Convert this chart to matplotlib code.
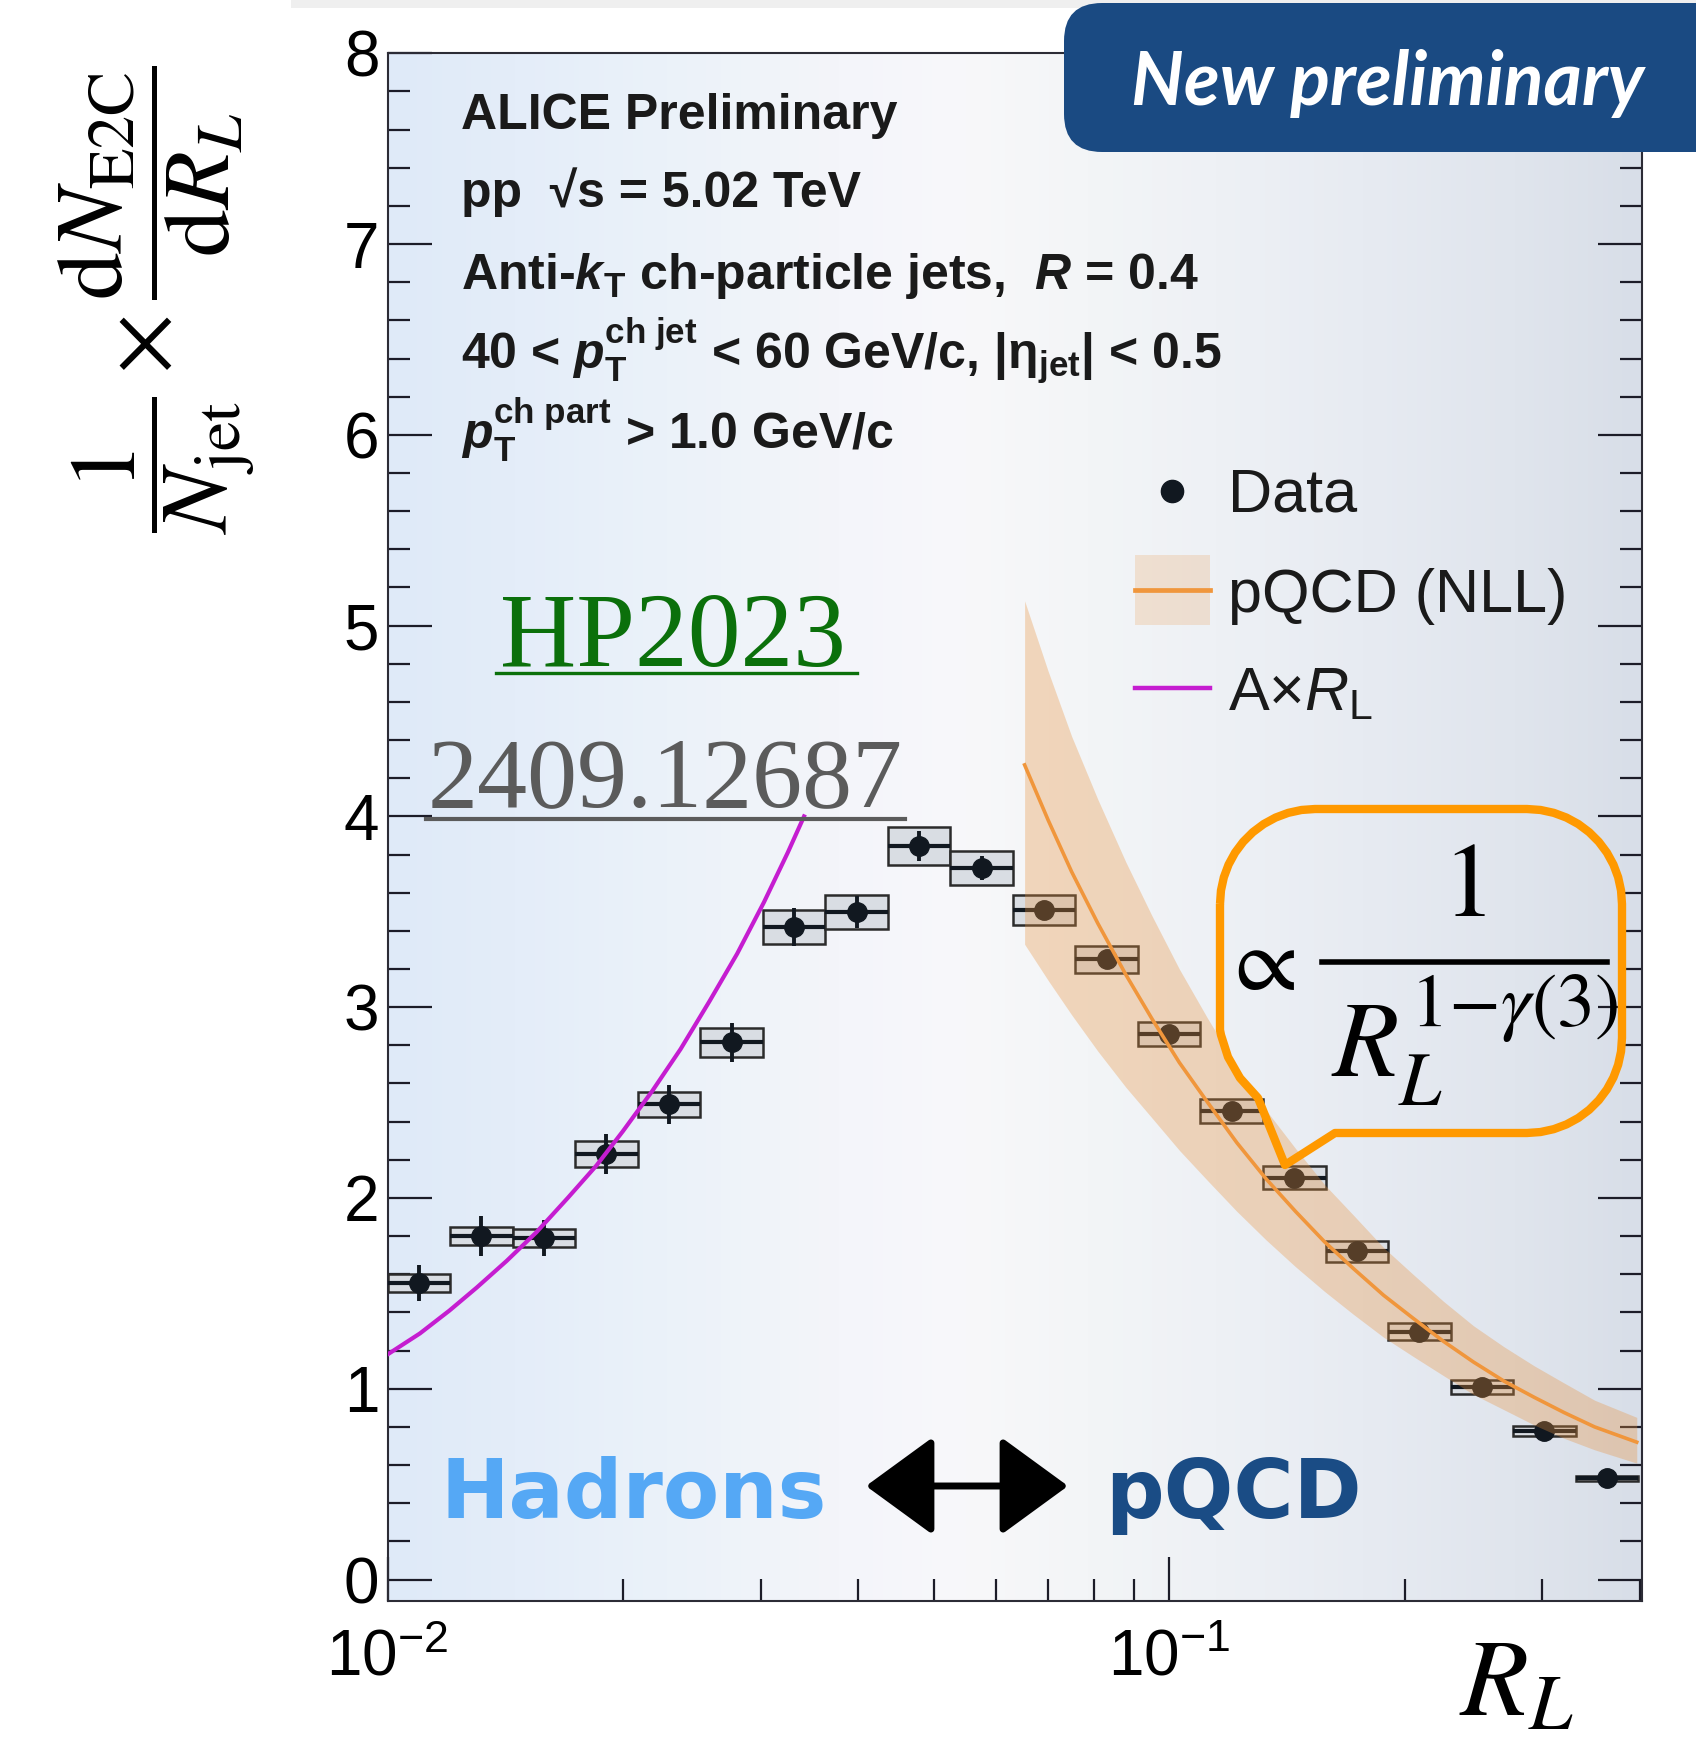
import numpy as np
import matplotlib
matplotlib.use("Agg")
import matplotlib.pyplot as plt
from matplotlib.patches import Rectangle, FancyBboxPatch, PathPatch, FancyArrowPatch
from matplotlib.path import Path
from matplotlib.lines import Line2D
from matplotlib.colors import LinearSegmentedColormap
from matplotlib.ticker import MultipleLocator, LogLocator, NullFormatter

plt.rcParams['font.family'] = ['Liberation Sans', 'DejaVu Sans']
plt.rcParams['mathtext.fontset'] = 'custom'
plt.rcParams['mathtext.rm'] = 'Liberation Sans'
plt.rcParams['mathtext.it'] = 'Liberation Sans:italic'
plt.rcParams['mathtext.bf'] = 'Liberation Sans:bold'
plt.rcParams['mathtext.bfit'] = 'Liberation Sans:bold:italic'

# ---- data ----
rl_edges = [0.01000, 0.01202, 0.01445, 0.01738, 0.02089, 0.02512, 0.03020,
            0.03631, 0.04365, 0.05248, 0.06310, 0.07586, 0.09120, 0.1096,
            0.1318, 0.1585, 0.1905, 0.2291, 0.2754, 0.3311, 0.3981]
rl = [0.01096, 0.01318, 0.01585, 0.01905, 0.02291, 0.02754, 0.03311, 0.03981,
      0.04786, 0.05754, 0.06918, 0.08318, 0.1000, 0.1202, 0.1445, 0.1738,
      0.2089, 0.2512, 0.3020, 0.3631]
e2c = [1.554, 1.80, 1.79, 2.23, 2.49, 2.815, 3.42, 3.50, 3.845, 3.73,
       3.51, 3.25, 2.86, 2.455, 2.106, 1.72, 1.30, 1.01, 0.78, 0.53]
stat = [0.096, 0.103, 0.095, 0.103, 0.10, 0.10, 0.10, 0.085, 0.08, 0.065,
        0.045, 0.04, 0.035, 0.03, 0.03, 0.025, 0.025, 0.02, 0.02, 0.02]
syst = [0.046, 0.048, 0.048, 0.068, 0.065, 0.074, 0.088, 0.09, 0.099, 0.09,
        0.079, 0.07, 0.064, 0.063, 0.059, 0.057, 0.045, 0.035, 0.026, 0.015]

# A x R_L curve
lin_rl = [0.0100, 0.0110, 0.0120, 0.0130, 0.0142, 0.0155, 0.0170, 0.0185,
          0.0200, 0.0218, 0.0237, 0.0258, 0.0280, 0.0303, 0.0325, 0.0341]
lin_y = [1.18, 1.29, 1.41, 1.53, 1.67, 1.82, 2.00, 2.17,
         2.35, 2.56, 2.78, 3.03, 3.28, 3.55, 3.81, 4.00]

# pQCD (NLL) curve and band
nll_rl = [0.0653, 0.070, 0.075, 0.081, 0.088, 0.095, 0.103, 0.112, 0.122, 0.133, 0.145,
          0.158, 0.172, 0.188, 0.205, 0.224, 0.245, 0.268, 0.293, 0.320, 0.350, 0.3963]
nll_y = [4.27, 3.98, 3.71, 3.44, 3.17, 2.94, 2.71, 2.50, 2.29, 2.10, 1.93,
         1.77, 1.63, 1.49, 1.37, 1.25, 1.14, 1.04, 0.955, 0.875, 0.80, 0.72]
nll_hi = [5.13, 4.76, 4.42, 4.09, 3.76, 3.48, 3.20, 2.94, 2.69, 2.46, 2.26,
          2.07, 1.91, 1.74, 1.60, 1.46, 1.33, 1.22, 1.12, 1.03, 0.94, 0.85]
nll_lo = [3.33, 3.14, 2.96, 2.77, 2.58, 2.42, 2.25, 2.09, 1.93, 1.78, 1.64,
          1.51, 1.39, 1.27, 1.17, 1.07, 0.97, 0.89, 0.81, 0.74, 0.68, 0.61]

W, H = 1696, 1741
fig = plt.figure(figsize=(W / 100, H / 100), dpi=100)
inch = fig.dpi_scale_trans


def ix(px):
    return px / 100.0


def iy(py):
    return (H - py) / 100.0


rect = [387.6 / W, 1 - 1600.5 / H, (1641.6 - 387.6) / W, (1600.5 - 53.3) / H]

# background gradient
bg = fig.add_axes(rect, zorder=0)
grad_cmap = LinearSegmentedColormap.from_list('bg', [
    (0.0, '#dfeaf8'), (0.10, '#e4edf9'), (0.22, '#ebf2f9'), (0.36, '#f4f5fa'),
    (0.46, '#f8f8fa'), (0.56, '#f3f5f7'), (0.66, '#eef1f5'), (0.78, '#e7ebf2'),
    (0.90, '#e0e5ed'), (1.0, '#d8dee8')])
bg.imshow(np.linspace(0, 1, 256)[None, :], cmap=grad_cmap, aspect='auto', extent=(0, 1, 0, 1))
bg.set_axis_off()

ax = fig.add_axes(rect, zorder=1)
ax.set_facecolor('none')
ax.set_xscale('log')

for i in range(len(e2c)):
    ax.add_patch(Rectangle((rl_edges[i], e2c[i] - syst[i]), rl_edges[i + 1] - rl_edges[i],
                           2 * syst[i], fc='#d9dde3', ec='#2b2b2b', lw=1.8, zorder=3))
ax.hlines(e2c, rl_edges[:-1], rl_edges[1:], color='#111820', lw=3, zorder=4)
ax.errorbar(rl, e2c, yerr=stat, fmt='o', ms=14, color='#111820', elinewidth=2.8,
            capsize=0, zorder=5)
ax.plot(lin_rl, lin_y, color='#c51dd0', lw=3, zorder=6)
ax.fill_between(nll_rl, nll_lo, nll_hi, color='#e8913c', alpha=0.32, lw=0, zorder=7)
ax.plot(nll_rl, nll_y, color='#f0963c', lw=2.6, zorder=8)

ax.set_xlim(0.01, 0.402)
ax.set_ylim(-0.11, 8.0)
ax.set_xticks([0.01, 0.1], labels=[r'$10^{-2}$', r'$10^{-1}$'])
ax.xaxis.set_minor_locator(LogLocator(base=10, subs=(2, 3, 4, 5, 6, 7, 8, 9), numticks=20))
ax.xaxis.set_minor_formatter(NullFormatter())
ax.yaxis.set_major_locator(MultipleLocator(1))
ax.yaxis.set_minor_locator(MultipleLocator(0.2))
ax.tick_params(which='both', direction='in', top=False, right=True, color='#1c1c28',
               labelsize=46)
ax.tick_params(which='major', length=32, width=1.6)
ax.tick_params(which='minor', length=16, width=1.6)
ax.tick_params(axis='x', pad=20)
ax.tick_params(axis='y', pad=6)
for s in ax.spines.values():
    s.set_color('#2c2c36')
    s.set_linewidth(1.5)

# faint strip at the very top
fig.add_artist(Rectangle((ix(291), iy(8)), ix(W) - ix(291), 0.08, transform=inch,
                         fc='#efefef', ec='none', zorder=0))

# axis titles
fig.text(ix(156), iy(300),
         r'$\dfrac{1}{N_{\rm jet}}\times\dfrac{{\rm d}N_{\rm E2C}}{{\rm d}R_L}$',
         rotation=90, fontsize=68, math_fontfamily='stix', ha='center', va='center',
         transform=inch)
fig.text(ix(1516), iy(1686), r'$R_L$', fontsize=80, math_fontfamily='stix',
         ha='center', va='center', transform=inch)

# ALICE info block
info = ['ALICE Preliminary',
        r'pp  √s = 5.02 TeV',
        r'Anti-$\mathbfit{k}_{\mathbf{T}}$ ch-particle jets,  $\mathbfit{R}$ = 0.4',
        r'40 < $\mathbfit{p}_{\mathbf{T}}^{\mathbf{ch\ jet}}$ < 60 GeV/c, |η$_{\mathbf{jet}}$| < 0.5',
        r'$\mathbfit{p}_{\mathbf{T}}^{\mathbf{ch\ part}}$ > 1.0 GeV/c']
info_base = [129, 207, 289, 369, 449]
for txt, yb in zip(info, info_base):
    fig.text(ix(461), iy(yb), txt, fontsize=36, fontweight='bold', color='#1a1a1a',
             va='baseline', transform=inch)

# legend drawn by hand
fig.add_artist(Line2D([ix(1172)], [iy(491)], marker='o', ms=16, color='#111820',
                      transform=inch))
fig.add_artist(Rectangle((ix(1135), iy(625)), 0.75, 0.70, transform=inch,
                         fc='#e8913c', alpha=0.2, ec='none'))
fig.add_artist(Line2D([ix(1135), ix(1210)], [iy(590), iy(590)], color='#f0963c',
                      lw=3.4, transform=inch))
fig.add_artist(Line2D([ix(1135), ix(1210)], [iy(688), iy(688)], color='#c51dd0',
                      lw=3.2, transform=inch))
for txt, yb in zip(['Data', 'pQCD (NLL)', r'A×$R_{\rm L}$'], [512, 612, 710]):
    fig.text(ix(1228), iy(yb), txt, fontsize=44, color='#1a1a1a', va='baseline',
             transform=inch)

# conference / arXiv tags
fig.text(ix(500), iy(666), 'HP2023', fontsize=76, family='Liberation Serif',
         color='#0b700b', va='baseline', transform=inch)
fig.add_artist(Line2D([ix(496), ix(857)], [iy(673), iy(673)], color='#0b700b', lw=2.4,
                      transform=inch))
fig.text(ix(428), iy(806), '2409.12687', fontsize=72, family='Liberation Serif',
         color='#5b5b5b', va='baseline', transform=inch)
fig.add_artist(Line2D([ix(426), ix(905)], [iy(819), iy(819)], color='#5b5b5b', lw=3,
                      transform=inch))

# Hadrons <-> pQCD
fig.text(ix(440), iy(1518), 'Hadrons', family='DejaVu Sans', fontweight='heavy',
         fontsize=59, color='#55a8f5', va='baseline', transform=inch)
fig.text(ix(1105), iy(1518), 'pQCD', family='DejaVu Sans', fontweight='heavy',
         fontsize=59, color='#1a4c85', va='baseline', transform=inch)
fig.add_artist(FancyArrowPatch((ix(866), iy(1486)), (ix(1068), iy(1486)),
                               arrowstyle='<|-|>,head_length=0.85,head_width=0.62',
                               mutation_scale=50, lw=5, color='k', shrinkA=0, shrinkB=0,
                               transform=inch))

# "New preliminary" banner
fig.add_artist(FancyBboxPatch((ix(1064), iy(152)), ix(1740) - ix(1064), 1.49,
                              boxstyle='round,pad=0,rounding_size=0.38', transform=inch,
                              fc='#1a4a82', ec='none', zorder=5))
fig.text(ix(1388), iy(83), 'New preliminary', family='Lato', style='italic',
         fontweight='bold', fontsize=53, color='white', ha='center', va='center',
         transform=inch, zorder=6)

# speech bubble with the scaling formula
x0, x1, y0, y1, r = 1220, 1622, 809, 1133, 95
pts = []
for a in np.linspace(180, 90, 12):
    pts.append((x0 + r + r * np.cos(np.radians(a)), y0 + r - r * np.sin(np.radians(a))))
for a in np.linspace(90, 0, 12):
    pts.append((x1 - r + r * np.cos(np.radians(a)), y0 + r - r * np.sin(np.radians(a))))
for a in np.linspace(0, -90, 12):
    pts.append((x1 - r + r * np.cos(np.radians(a)), y1 - r - r * np.sin(np.radians(a))))
pts += [(1335, y1), (1285, 1165), (1258, 1098), (1240, 1078), (1228, 1057),
        (1221, 1035), (x0, 1030), (x0, y0 + r)]
verts = [(ix(px), iy(py)) for px, py in pts]
fig.add_artist(PathPatch(Path(verts), transform=inch, fill=False, ec='#ff9900', lw=6,
                         joinstyle='round', zorder=7))
fig.text(ix(1258), iy(966), r'$\propto$', fontsize=66, math_fontfamily='stix',
         ha='center', va='center', transform=inch, zorder=8)
fig.text(ix(1464), iy(889), r'$1$', fontsize=76, math_fontfamily='stix',
         ha='center', va='center', transform=inch, zorder=8)
fig.add_artist(Line2D([ix(1322), ix(1607)], [iy(962), iy(962)], color='k', lw=4,
                      transform=inch, zorder=8))
fig.text(ix(1331), iy(1077), r'$R_L^{1{-}\gamma(3)}$', fontsize=78, math_fontfamily='stix',
         ha='left', va='baseline', transform=inch, zorder=8)

fig.savefig('out.png', dpi=100)
